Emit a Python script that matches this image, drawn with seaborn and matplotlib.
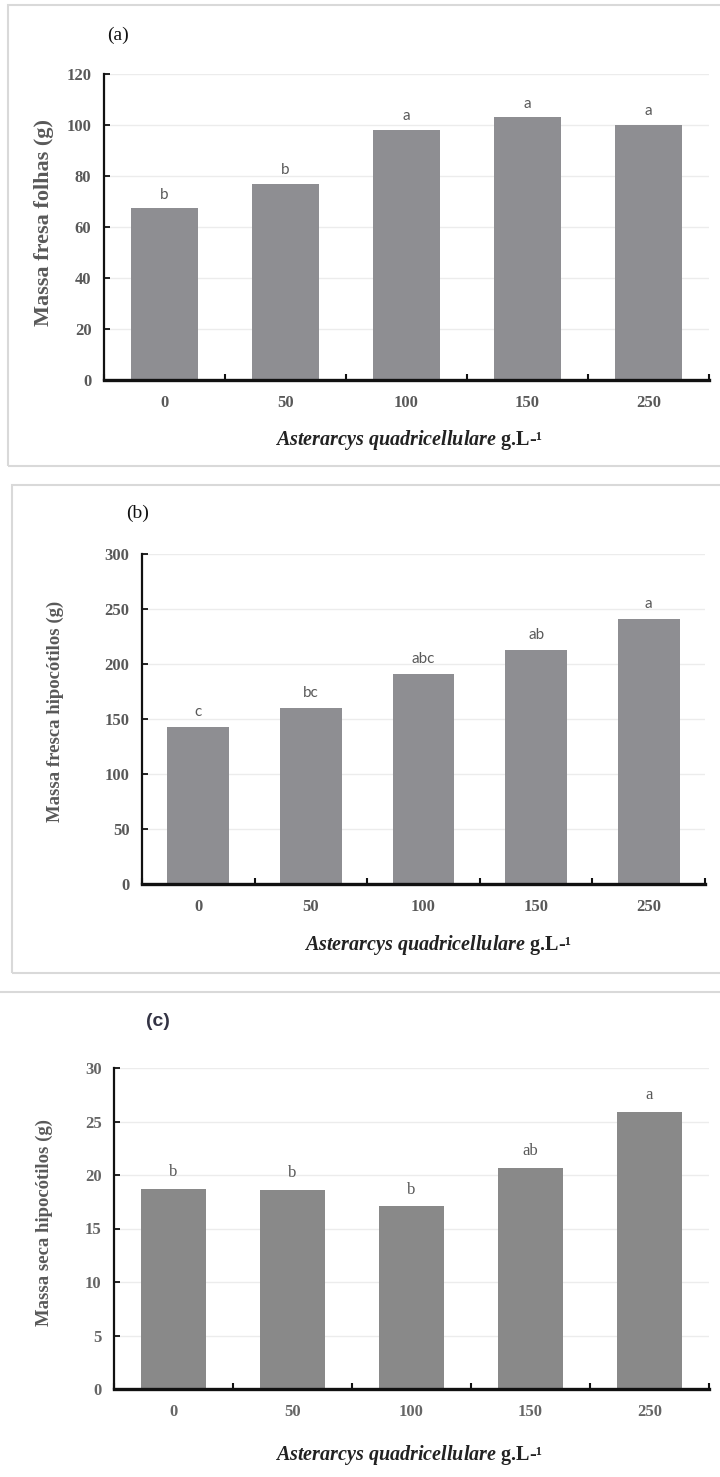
import numpy as np
import pandas as pd
import matplotlib
matplotlib.use("Agg")
import matplotlib.pyplot as plt
from matplotlib.patches import Rectangle
from matplotlib.lines import Line2D
import seaborn as sns

# ---------------- data ----------------
categories = ["0", "50", "100", "150", "250"]
massa_fresca_folhas = [67.4, 76.9, 98.1, 103.1, 100.2]
letras_folhas = ["b", "b", "a", "a", "a"]
massa_fresca_hipocotilos = [143.0, 160.0, 190.6, 212.4, 241.2]
letras_fresca_hip = ["c", "bc", "abc", "ab", "a"]
massa_seca_hipocotilos = [18.7, 18.6, 17.1, 20.7, 25.9]
letras_seca_hip = ["b", "b", "b", "ab", "a"]

yticks_a = [0, 20, 40, 60, 80, 100, 120]
yticks_b = [0, 50, 100, 150, 200, 250, 300]
yticks_c = [0, 5, 10, 15, 20, 25, 30]

ylabel_a = "Massa fresa folhas (g)"
ylabel_b = "Massa fresca hipocótilos (g)"
ylabel_c = "Massa seca hipocótilos (g)"
xlabel_txt = r"$\mathbfit{Asterarcys\ quadricellulare}$ g.L-¹"

# ---------------- style ----------------
sns.set_theme(style="white")
plt.rcParams["font.family"] = ["Liberation Serif", "DejaVu Serif"]
plt.rcParams["mathtext.fontset"] = "custom"
plt.rcParams["mathtext.bfit"] = "Liberation Serif:italic:bold"
plt.rcParams["mathtext.rm"] = "Liberation Serif:bold"
plt.rcParams["mathtext.it"] = "Liberation Serif:italic"
plt.rcParams["mathtext.bf"] = "Liberation Serif:bold"

W, H = 720, 1477
fig = plt.figure(figsize=(W / 100, H / 100), dpi=100)
fig.patch.set_facecolor("white")


def fx(x):
    return x / W


def fy(y):
    return 1 - y / H


def make_axes(left, right, top, bottom):
    return fig.add_axes([fx(left), fy(bottom), fx(right - left), (bottom - top) / H])


TICK_GRAY = "#595959"


def draw_panel(ax, values, letters, yticks, bar_color, letter_family, letter_size,
               letter_offset, tick_size, tick_weight="bold", tick_color=TICK_GRAY):
    df = pd.DataFrame({"cat": categories, "val": values})
    sns.barplot(data=df, x="cat", y="val", order=categories, color=bar_color,
                width=0.55, saturation=1, ax=ax, edgecolor="none", errorbar=None)
    ax.set_xlim(-0.5, len(categories) - 0.5)
    ax.set_ylim(yticks[0], yticks[-1])
    ax.set_yticks(yticks)
    ax.set_xlabel("")
    ax.set_ylabel("")
    ax.yaxis.grid(True, color="#ececec", lw=1.0)
    ax.xaxis.grid(False)
    ax.set_axisbelow(True)
    for s in ["top", "right"]:
        ax.spines[s].set_visible(False)
    ax.spines["left"].set_color("#111111")
    ax.spines["left"].set_linewidth(1.6)
    ax.spines["bottom"].set_color("#111111")
    ax.spines["bottom"].set_linewidth(2.4)
    ax.set_xticks(np.arange(-0.5, len(categories)), minor=True)
    ax.tick_params(axis="x", which="major", length=0, pad=11,
                   labelsize=tick_size, labelcolor=tick_color)
    ax.tick_params(axis="x", which="minor", direction="in", length=4, width=1.5,
                   color="#111111", bottom=True)
    ax.tick_params(axis="y", which="major", direction="in", length=4, width=1.3,
                   color="#111111", left=True, pad=9, labelsize=tick_size,
                   labelcolor=tick_color)
    for lbl in ax.get_xticklabels() + ax.get_yticklabels():
        lbl.set_fontweight(tick_weight)
    for i, (v, t) in enumerate(zip(values, letters)):
        ax.annotate(t, (i, v), xytext=(0, letter_offset), textcoords="offset points",
                    ha="center", va="baseline", fontsize=letter_size,
                    color=TICK_GRAY, family=letter_family, fontweight="normal")


# ---------------- panel borders ----------------
fig.add_artist(Rectangle((fx(8), fy(466)), fx(730 - 8), (466 - 5) / H,
                         transform=fig.transFigure, fill=False,
                         ec="#d9d9d9", lw=1.5))
fig.add_artist(Rectangle((fx(11.5), fy(973)), fx(730 - 11.5), (973 - 485) / H,
                         transform=fig.transFigure, fill=False,
                         ec="#d9d9d9", lw=1.5))
fig.add_artist(Line2D([0, 1], [fy(992), fy(992)], transform=fig.transFigure,
                      color="#d9d9d9", lw=1.5))

# ---------------- panel (a) ----------------
ax_a = make_axes(104, 709, 74.3, 380)
draw_panel(ax_a, massa_fresca_folhas, letras_folhas, yticks_a, "#8e8e92",
           ["Lato", "DejaVu Sans"], 11, 7, 12)
fig.text(fx(118), fy(35), "(a)", fontsize=14, color="#111111", ha="center",
         va="center", fontweight="normal")
fig.text(fx(44), fy(222), ylabel_a, rotation=90, fontsize=16, color=TICK_GRAY,
         fontweight="bold", ha="center", va="center")
fig.text(fx(409), fy(440), xlabel_txt, fontsize=14.5, color="#222222",
         fontweight="bold", ha="center", va="center")

# ---------------- panel (b) ----------------
ax_b = make_axes(142, 705, 554, 884)
draw_panel(ax_b, massa_fresca_hipocotilos, letras_fresca_hip, yticks_b, "#8e8e92",
           ["Lato", "DejaVu Sans"], 11, 8, 12)
fig.text(fx(138), fy(513), "(b)", fontsize=14, color="#111111", ha="center",
         va="center", fontweight="normal")
fig.text(fx(55), fy(711), ylabel_b, rotation=90, fontsize=13.5, color=TICK_GRAY,
         fontweight="bold", ha="center", va="center")
fig.text(fx(438), fy(945), xlabel_txt, fontsize=14.5, color="#222222",
         fontweight="bold", ha="center", va="center")

# ---------------- panel (c) ----------------
ax_c = make_axes(114, 709, 1068, 1389)
draw_panel(ax_c, massa_seca_hipocotilos, letras_seca_hip, yticks_c, "#898989",
           ["Liberation Serif", "DejaVu Serif"], 12, 9, 12, tick_weight="bold",
           tick_color="#666666")
fig.text(fx(158), fy(1022), "(c)", fontsize=14, color="#333344", ha="center",
         va="center", family=["Liberation Sans", "DejaVu Sans"], fontweight="bold")
fig.text(fx(44), fy(1222), ylabel_c, rotation=90, fontsize=13.5, color=TICK_GRAY,
         fontweight="bold", ha="center", va="center")
fig.text(fx(409), fy(1455), xlabel_txt, fontsize=14.5, color="#222222",
         fontweight="bold", ha="center", va="center")

fig.savefig("out.png", dpi=100)
